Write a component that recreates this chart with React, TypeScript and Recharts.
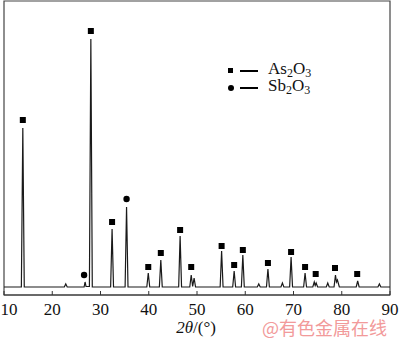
import { ComposedChart, Line, Scatter, XAxis, YAxis, ReferenceArea } from 'recharts'

// XRD trace, 2θ (deg) and intensity (a.u.)
const TWO_THETA = [
  10, 13.6, 13.9, 14.2, 22.5, 22.8, 23.1, 26.6, 26.8, 27.0, 27.7, 28.0, 28.3,
  32.1, 32.4, 32.7, 35.1, 35.4, 35.7, 39.6, 39.9, 40.2, 42.2, 42.5, 42.8,
  46.2, 46.5, 46.8, 48.5, 48.8, 49.1, 49.4, 49.7, 54.8, 55.1, 55.4,
  57.4, 57.7, 58.0, 59.2, 59.5, 59.8, 62.5, 62.8, 63.1, 64.4, 64.7, 65.0,
  67.4, 67.7, 68.0, 69.2, 69.5, 69.8, 72.1, 72.4, 72.7, 74.0, 74.3, 74.5, 74.7, 75.0,
  76.8, 77.1, 77.4, 78.4, 78.7, 78.9, 79.1, 79.5, 83.0, 83.3, 83.6, 87.5, 87.8, 88.1, 90,
]
const INTENSITY = [
  80, 80, 1670, 80, 80, 110, 80, 80, 130, 85, 85, 2560, 80,
  80, 660, 80, 80, 880, 80, 80, 220, 80, 80, 350, 80,
  80, 590, 80, 80, 200, 85, 170, 80, 80, 440, 80,
  80, 240, 80, 80, 400, 80, 80, 110, 80, 80, 260, 80,
  80, 120, 80, 80, 380, 80, 80, 220, 80, 80, 130, 95, 120, 80,
  80, 120, 80, 80, 200, 130, 150, 80, 80, 140, 80, 80, 110, 80, 80,
]

// phase markers
const AS_THETA = [13.9, 28.0, 32.4, 39.9, 42.5, 46.5, 48.8, 55.1, 57.7, 59.5, 64.7, 69.5, 72.4, 74.6, 78.6, 83.2]
const AS_LEVEL = [1750, 2640, 730, 280, 420, 650, 280, 490, 300, 450, 320, 430, 280, 210, 270, 210]
const SB_THETA = [26.6, 35.4]
const SB_LEVEL = [200, 960]

const X_TICKS = [10, 20, 30, 40, 50, 60, 70, 80, 90]

const trace = TWO_THETA.map((t, i) => ({ t, v: INTENSITY[i] }))
const asMarks = AS_THETA.map((t, i) => ({ t, v: AS_LEVEL[i] }))
const sbMarks = SB_THETA.map((t, i) => ({ t, v: SB_LEVEL[i] }))

const SERIF = '"Liberation Serif", "Times New Roman", serif'

function SquareMark(props: any) {
  const { cx, cy } = props
  return <rect x={cx - 3} y={cy - 3} width={6} height={6} fill="#000" />
}

function DotMark(props: any) {
  const { cx, cy } = props
  return <circle cx={cx} cy={cy} r={3.2} fill="#000" />
}

function Tick({ x, y, payload }: any) {
  const dx = payload.value === 10 ? 5 : 0
  return (
    <g>
      <line x1={x} y1={y} x2={x} y2={y - 4} stroke="#333" />
      <text x={x + dx} y={y + 20} textAnchor="middle" fontSize={17} fontFamily={SERIF} fill="#111">
        {payload.value}
      </text>
    </g>
  )
}

export default function App() {
  return (
    <div style={{ position: 'absolute', left: 0, top: 0, width: 400, height: 341, background: '#fff' }}>
      <ComposedChart width={400} height={341} margin={{ top: 1, right: 10, bottom: 16, left: 4 }}>
        <XAxis
          dataKey="t"
          type="number"
          domain={[10, 90]}
          ticks={X_TICKS}
          interval={0}
          height={30}
          tickLine={false}
          tickSize={0}
          tickMargin={0}
          tick={<Tick />}
          stroke="#333"
          allowDataOverflow
        />
        <YAxis type="number" domain={[0, 2940]} hide width={0} allowDataOverflow />
        <ReferenceArea x1={10} x2={90} y1={0} y2={2940} fill="none" stroke="#444" strokeWidth={1.2} />
        <Line
          data={trace}
          dataKey="v"
          type="linear"
          stroke="#1a1a1a"
          strokeWidth={1.2}
          dot={false}
          isAnimationActive={false}
        />
        <Scatter data={asMarks} dataKey="v" shape={SquareMark} isAnimationActive={false} />
        <Scatter data={sbMarks} dataKey="v" shape={DotMark} isAnimationActive={false} />
      </ComposedChart>

      {/* legend */}
      <div style={{ position: 'absolute', left: 226, top: 62, fontFamily: SERIF, fontSize: 17, color: '#111', lineHeight: '17px' }}>
        <div style={{ display: 'flex', alignItems: 'center', height: 17 }}>
          <span style={{ width: 5, height: 5, background: '#000', marginLeft: 2 }} />
          <span style={{ width: 18, height: 2, background: '#000', marginLeft: 7 }} />
          <span style={{ marginLeft: 10 }}>
            As<sub style={{ fontSize: 12, verticalAlign: -3 }}>2</sub>O<sub style={{ fontSize: 12, verticalAlign: -3 }}>3</sub>
          </span>
        </div>
        <div style={{ display: 'flex', alignItems: 'center', height: 17 }}>
          <span style={{ width: 6, height: 6, background: '#000', borderRadius: 3, marginLeft: 1.5 }} />
          <span style={{ width: 18, height: 2, background: '#000', marginLeft: 6.5 }} />
          <span style={{ marginLeft: 10 }}>
            Sb<sub style={{ fontSize: 12, verticalAlign: -3 }}>2</sub>O<sub style={{ fontSize: 12, verticalAlign: -3 }}>3</sub>
          </span>
        </div>
      </div>

      {/* axis title */}
      <div style={{ position: 'absolute', left: 0, width: 392, top: 318, textAlign: 'center', fontFamily: SERIF, fontSize: 17, color: '#111' }}>
        <i>2θ</i>/(°)
      </div>

      {/* watermark */}
      <div style={{ position: 'absolute', left: 262, top: 314, fontFamily: '"Noto Sans CJK SC", sans-serif', fontSize: 18, color: '#f29a9a' }}>
        @有色金属在线
      </div>
    </div>
  )
}
